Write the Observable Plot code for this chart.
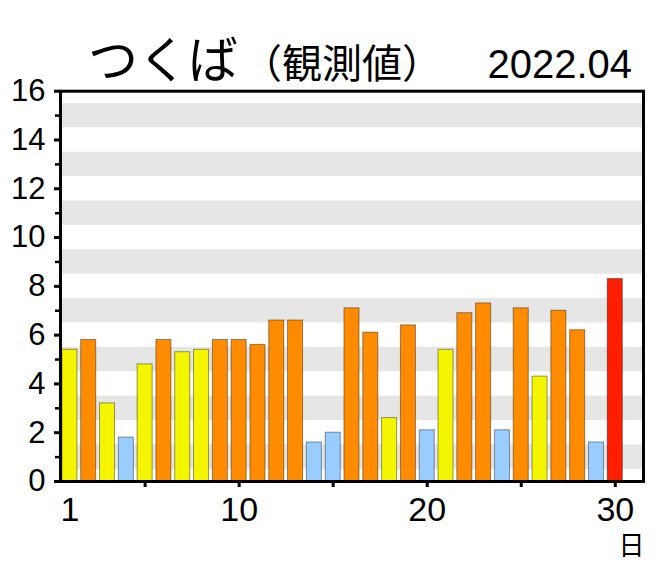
<!DOCTYPE html>
<html><head><meta charset="utf-8">
<script src="https://cdn.jsdelivr.net/npm/d3@7"></script>
<script src="https://cdn.jsdelivr.net/npm/@observablehq/plot@0.6"></script>
<style>
body{margin:0;background:#fff;}
#wrap{position:relative;width:660px;height:572px;overflow:hidden;}
#head{position:relative;width:660px;height:70px;}
#head span{position:absolute;line-height:1;white-space:nowrap;color:#000;}
</style></head><body>
<div id="wrap">
<div id="head">
<span style="left:88px;top:31px;font-size:50px;font-family:'Noto Sans CJK JP'">つくば</span>
<span style="left:242px;top:41px;font-size:40px;font-family:'Noto Sans CJK JP'">（観測値）</span>
<span style="right:28px;top:44px;font-size:40px;font-family:'Liberation Sans',Arial,sans-serif">2022.04</span>
</div>
<div id="chart"></div>
</div>
<script>
const days = [1,2,3,4,5,6,7,8,9,10,11,12,13,14,15,16,17,18,19,20,21,22,23,24,25,26,27,28,29,30];
const uv = [5.4,5.8,3.2,1.8,4.8,5.8,5.3,5.4,5.8,5.8,5.6,6.6,6.6,1.6,2.0,7.1,6.1,2.6,6.4,2.1,5.4,6.9,7.3,2.1,7.1,4.3,7.0,6.2,1.6,8.3];
const bandCenters = [1,3,5,7,9,11,13,15];
const yTicks = [0,2,4,6,8,10,12,14,16];
const yMinor = [1,3,5,7,9,11,13,15];
const xTicks = [5,10,15,20,25,30];
const xLabels = [1,10,20,30];
const levelBreaks = [2.5,5.5,7.5];
const levelColors = ["#99ccff","#f5f500","#ff8c00","#ff1e00"];
const unitLabel = ["日"];

const data = days.map((d,i) => ({day: d, uv: uv[i]}));

const chart = Plot.plot({
  width: 660,
  height: 502,
  marginTop: 20.7,
  marginBottom: 91,
  marginLeft: 60,
  marginRight: 17,
  style: {fontFamily: "'Liberation Sans', Arial, sans-serif", background: "#fff", overflow: "visible"},
  x: {domain: [0.5, 31.5]},
  y: {domain: [0, 16]},
  color: {type: "threshold", domain: levelBreaks, range: levelColors},
  marks: [
    Plot.rect(bandCenters, {y1: d => d - 0.5, y2: d => d + 0.5, fill: "#e6e6e6"}),
    Plot.rectY(data, {x1: d => d.day - 0.4, x2: d => d.day + 0.4, y: "uv", fill: "uv", stroke: "#000", strokeOpacity: 0.4, strokeWidth: 1}),
    Plot.frame({stroke: "#000", strokeWidth: 3}),
    Plot.axisY({ticks: yTicks, tickSize: 6, tickPadding: 9, strokeWidth: 3, fontSize: 31, label: null}),
    Plot.axisY({ticks: yMinor, tickSize: 5, tickFormat: () => "", strokeWidth: 2.5, label: null}),
    Plot.axisX({ticks: xTicks, tickSize: 6, tickFormat: () => "", strokeWidth: 3, label: null}),
    Plot.axisX({ticks: xLabels, tickSize: 0, tickPadding: 15, fontSize: 34, label: null}),
    Plot.text(unitLabel, {frameAnchor: "bottom-right", dy: 65, dx: 1, fontSize: 26, textAnchor: "end", lineAnchor: "middle", fontFamily: "'Noto Sans CJK JP'", fill: "#000"})
  ]
});
document.getElementById("chart").appendChild(chart);
</script>
</body></html>
